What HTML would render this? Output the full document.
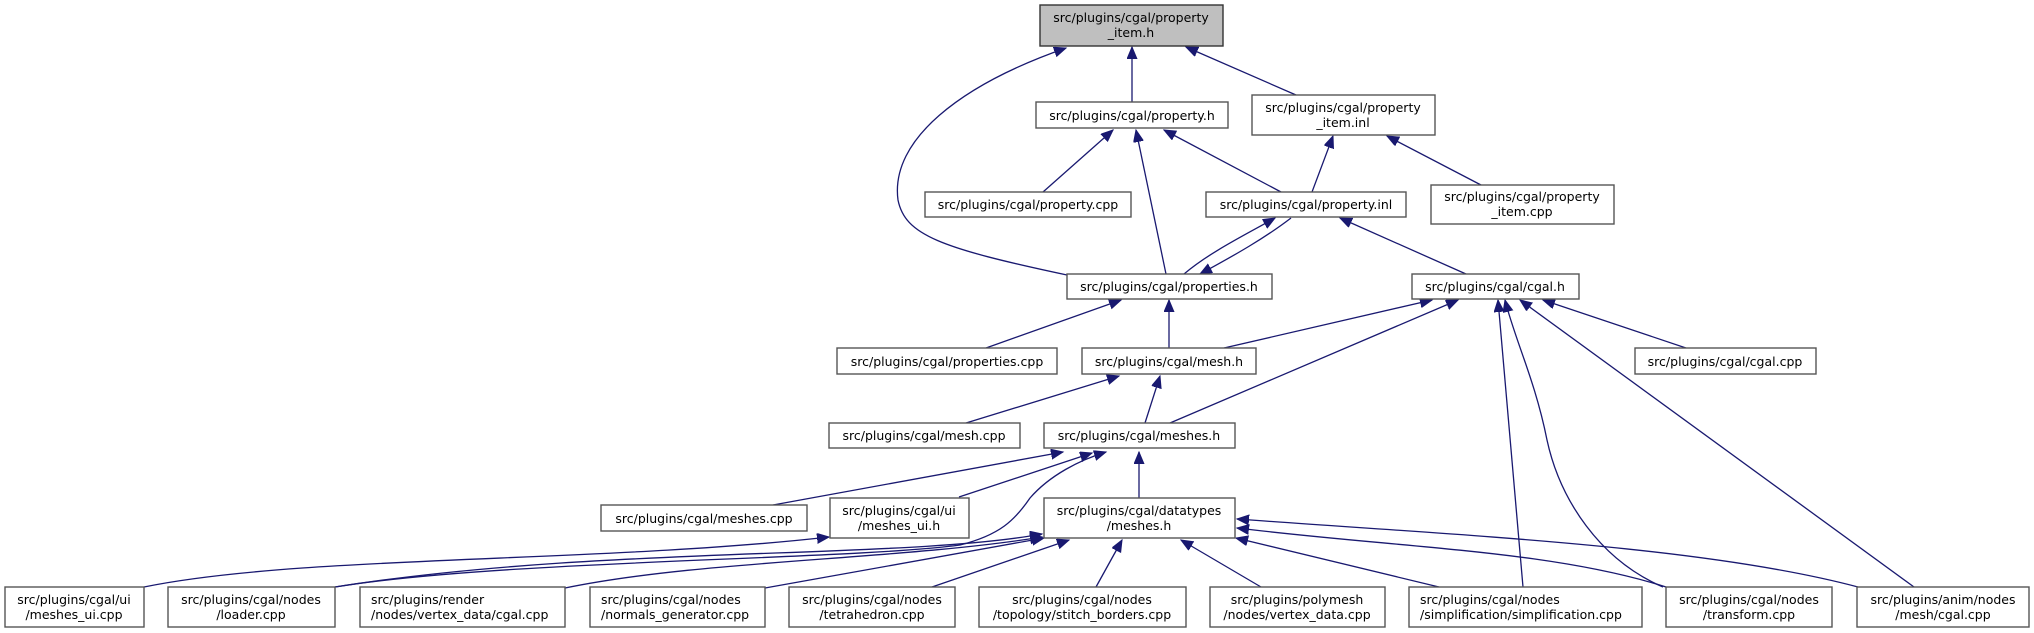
<!DOCTYPE html>
<html><head><meta charset="utf-8"><style>
html,body{margin:0;padding:0;background:#fff;}
svg{display:block;}
text{font-family:"DejaVu Sans","Liberation Sans",sans-serif;font-size:12.5px;fill:#000;text-anchor:middle;}
.b{fill:#fff;stroke:#555;stroke-width:1.4;}
.g{fill:#bfbfbf;stroke:#333;stroke-width:1.4;}
.e{fill:none;stroke:#191970;stroke-width:1.3;}
</style></head><body>
<svg width="2034" height="633" viewBox="0 0 2034 633" xmlns="http://www.w3.org/2000/svg">
<defs><marker id="a" markerUnits="userSpaceOnUse" markerWidth="14" markerHeight="12" refX="12" refY="5" orient="auto"><path d="M0,0 L12,5 L0,10 Z" fill="#191970" stroke="#191970"/></marker></defs>
<g class="e" marker-end="url(#a)">
<path d="M1132,102 L1132,47"/>
<path d="M1296,95 L1186,47"/>
<path d="M1067,275 C940,248 905,235 898,200 C890,140 960,85 1066,48"/>
<path d="M1043,192 L1113,130"/>
<path d="M1166,274 L1136,130"/>
<path d="M1281,192 L1164,130"/>
<path d="M1312,192 L1333,136"/>
<path d="M1481,185 L1387,136"/>
<path d="M1184,274 C1210,252 1245,235 1275,218"/>
<path d="M1291,218 C1265,238 1235,255 1200,274"/>
<path d="M1466,274 L1340,218"/>
<path d="M986,348 L1121,300"/>
<path d="M1169,348 L1169,300"/>
<path d="M1224,348 L1432,300"/>
<path d="M1170,423 L1458,300"/>
<path d="M1686,348 L1543,300"/>
<path d="M1523,587 L1498,300"/>
<path d="M1663,587 C1600,560 1560,500 1547,440 C1535,380 1515,340 1505,300"/>
<path d="M1914,587 L1520,300"/>
<path d="M966,423 L1119,376"/>
<path d="M1145,423 L1160,376"/>
<path d="M773,505 L1063,452"/>
<path d="M959,497 L1092,453"/>
<path d="M335,587 C500,560 850,560 960,545 C1000,535 1015,520 1030,498 C1050,475 1080,460 1106,452"/>
<path d="M1139,498 L1139,452"/>
<path d="M144,587 C300,555 600,563 829,537"/>
<path d="M335,587 C600,545 900,560 1042,534"/>
<path d="M565,588 C700,560 900,560 1042,537"/>
<path d="M765,588 L1044,538"/>
<path d="M932,587 L1069,540"/>
<path d="M1096,587 L1122,540"/>
<path d="M1261,587 L1181,540"/>
<path d="M1439,587 L1236,538"/>
<path d="M1666,587 C1550,550 1400,548 1237,528"/>
<path d="M1858,587 C1700,545 1450,535 1237,519"/>
</g>
<rect class="g" x="1040" y="5" width="183" height="41"/>
<text x="1131" y="22">src/plugins/cgal/property</text><text x="1131" y="37">_item.h</text>
<rect class="b" x="1036" y="102" width="192" height="26"/><text x="1132" y="120">src/plugins/cgal/property.h</text>
<rect class="b" x="1252" y="95" width="183" height="40"/><text x="1343" y="112">src/plugins/cgal/property</text><text x="1343" y="127">_item.inl</text>
<rect class="b" x="925" y="192" width="206" height="25"/><text x="1028" y="209">src/plugins/cgal/property.cpp</text>
<rect class="b" x="1206" y="192" width="200" height="25"/><text x="1306" y="209">src/plugins/cgal/property.inl</text>
<rect class="b" x="1431" y="185" width="183" height="39"/><text x="1522" y="201">src/plugins/cgal/property</text><text x="1522" y="216">_item.cpp</text>
<rect class="b" x="1067" y="274" width="205" height="25"/><text x="1169" y="291">src/plugins/cgal/properties.h</text>
<rect class="b" x="1412" y="274" width="167" height="25"/><text x="1495" y="291">src/plugins/cgal/cgal.h</text>
<rect class="b" x="837" y="348" width="220" height="26"/><text x="947" y="366">src/plugins/cgal/properties.cpp</text>
<rect class="b" x="1082" y="348" width="174" height="26"/><text x="1169" y="366">src/plugins/cgal/mesh.h</text>
<rect class="b" x="1635" y="348" width="181" height="26"/><text x="1725" y="366">src/plugins/cgal/cgal.cpp</text>
<rect class="b" x="829" y="423" width="191" height="25"/><text x="924" y="440">src/plugins/cgal/mesh.cpp</text>
<rect class="b" x="1044" y="423" width="191" height="25"/><text x="1139" y="440">src/plugins/cgal/meshes.h</text>
<rect class="b" x="601" y="505" width="206" height="26"/><text x="704" y="523">src/plugins/cgal/meshes.cpp</text>
<rect class="b" x="830" y="498" width="139" height="40"/><text x="899" y="515">src/plugins/cgal/ui</text><text x="899" y="530">/meshes_ui.h</text>
<rect class="b" x="1044" y="498" width="191" height="40"/><text x="1139" y="515">src/plugins/cgal/datatypes</text><text x="1139" y="530">/meshes.h</text>
<rect class="b" x="5" y="587" width="139" height="40"/><text x="74" y="604">src/plugins/cgal/ui</text><text x="74" y="619">/meshes_ui.cpp</text>
<rect class="b" x="168" y="587" width="167" height="40"/><text x="251" y="604">src/plugins/cgal/nodes</text><text x="251" y="619">/loader.cpp</text>
<rect class="b" x="360" y="587" width="205" height="40"/><text x="371" y="604" style="text-anchor:start">src/plugins/render</text><text x="371" y="619" style="text-anchor:start">/nodes/vertex_data/cgal.cpp</text>
<rect class="b" x="590" y="587" width="175" height="40"/><text x="601" y="604" style="text-anchor:start">src/plugins/cgal/nodes</text><text x="601" y="619" style="text-anchor:start">/normals_generator.cpp</text>
<rect class="b" x="789" y="587" width="166" height="40"/><text x="872" y="604">src/plugins/cgal/nodes</text><text x="872" y="619">/tetrahedron.cpp</text>
<rect class="b" x="979" y="587" width="207" height="40"/><text x="1082" y="604">src/plugins/cgal/nodes</text><text x="1082" y="619">/topology/stitch_borders.cpp</text>
<rect class="b" x="1210" y="587" width="175" height="40"/><text x="1297" y="604">src/plugins/polymesh</text><text x="1297" y="619">/nodes/vertex_data.cpp</text>
<rect class="b" x="1409" y="587" width="233" height="40"/><text x="1420" y="604" style="text-anchor:start">src/plugins/cgal/nodes</text><text x="1420" y="619" style="text-anchor:start">/simplification/simplification.cpp</text>
<rect class="b" x="1666" y="587" width="166" height="40"/><text x="1749" y="604">src/plugins/cgal/nodes</text><text x="1749" y="619">/transform.cpp</text>
<rect class="b" x="1857" y="587" width="172" height="40"/><text x="1943" y="604">src/plugins/anim/nodes</text><text x="1943" y="619">/mesh/cgal.cpp</text>
</svg>
</body></html>
